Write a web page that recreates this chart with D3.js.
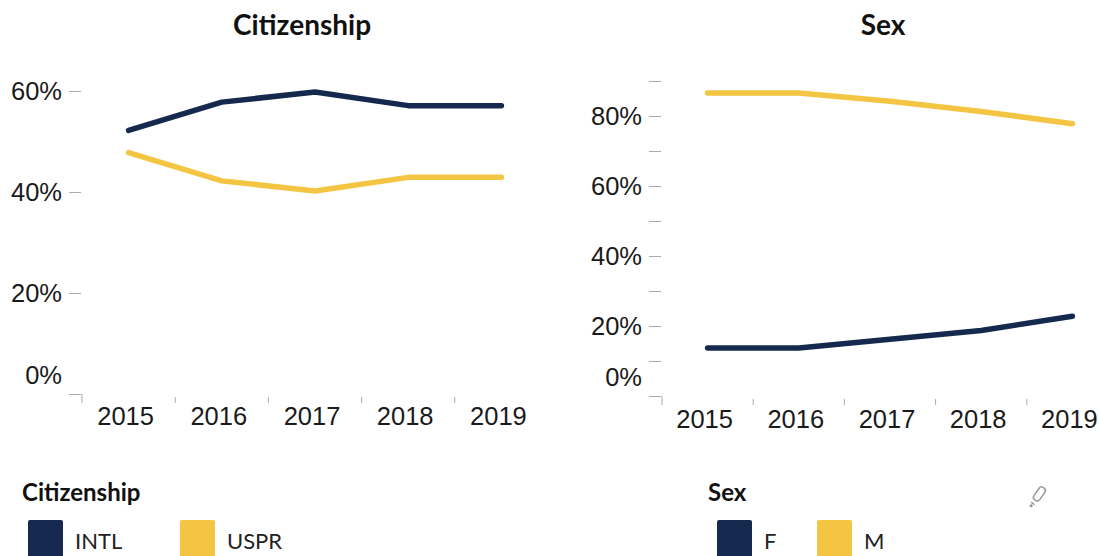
<!DOCTYPE html>
<html>
<head>
<meta charset="utf-8">
<script src="https://cdn.jsdelivr.net/npm/d3@7"></script>
<style>
  body { margin: 0; background: #fff; }
  .tick line { stroke: #aaa; stroke-width: 1; }
  .axis text { font-family: "Liberation Sans", Arial, sans-serif; font-size: 25.5px; fill: #1a1a1a; }
  .title { font-family: Lato, "Open Sans", sans-serif; font-weight: bold; font-size: 28px; fill: #111; }
  .legtitle { font-family: Lato, "Open Sans", sans-serif; font-weight: bold; font-size: 24px; fill: #111; }
  .leglabel { font-family: Lato, "Open Sans", sans-serif; font-size: 22px; fill: #222; }
</style>
</head>
<body>
<div id="chart"></div>
<script>
var years = ["2015", "2016", "2017", "2018", "2019"];

// citizenship shares
var intl = [0.522, 0.578, 0.598, 0.571, 0.571];
var uspr = [0.478, 0.422, 0.402, 0.429, 0.429];

// sex shares
var female = [0.137, 0.137, 0.162, 0.187, 0.228];
var male = [0.866, 0.866, 0.842, 0.813, 0.778];

var citTicks = [0, 0.2, 0.4, 0.6];
var sexTicks = [0, 0.1, 0.2, 0.3, 0.4, 0.5, 0.6, 0.7, 0.8, 0.9];

var navy = "#14294d",
    gold = "#f4c542";

var width = 1099, height = 556;

var svg = d3.select('#chart').append('svg')
    .attr('width', width)
    .attr('height', height);

function drawPanel(opt) {
  var x = d3.scaleBand()
      .domain(years)
      .range([opt.left, opt.right]);

  var y = d3.scaleLinear()
      .domain([0, opt.ymax])
      .range([opt.bottom, opt.ytop]);

  var g = svg.append('g');

  g.append('text')
      .attr('class', 'title')
      .attr('x', opt.titleX)
      .attr('y', 35)
      .attr('text-anchor', 'middle')
      .text(opt.title);

  // y axis: short dashes left of the plot
  var yAxis = g.append('g')
      .attr('class', 'axis')
      .attr('transform', 'translate(' + (opt.left - 1) + ',0)')
      .call(d3.axisLeft(y)
          .tickValues(opt.ticks)
          .tickSize(12)
          .tickPadding(7)
          .tickFormat(function(d) {
            return Math.round(d * 100) % 20 == 0 ? d3.format('.0%')(d) : '';
          }));
  yAxis.select('.domain').remove();
  // the zero label sits up off its tick
  yAxis.selectAll('.tick').filter(function(d) { return d == 0; })
      .select('text').attr('y', -19);

  // x axis: dashes at band edges, labels in band centres
  var xAxis = g.append('g')
      .attr('class', 'axis')
      .attr('transform', 'translate(0,' + opt.bottom + ')');

  xAxis.selectAll('line')
      .data(years)
      .enter().append('line')
      .attr('x1', function(d) { return x(d); })
      .attr('x2', function(d) { return x(d); })
      .attr('y1', function(d, i) { return i == 0 ? 0 : 3; })
      .attr('y2', 9)
      .attr('stroke', '#aaa');

  xAxis.selectAll('text')
      .data(years)
      .enter().append('text')
      .attr('x', function(d) { return x(d) + x.bandwidth() / 2 - 3; })
      .attr('y', opt.xlabelY)
      .attr('text-anchor', 'middle')
      .text(function(d) { return d; });

  var line = d3.line()
      .x(function(d, i) { return x(years[i]) + x.bandwidth() / 2; })
      .y(function(d) { return y(d); });

  opt.series.forEach(function(s) {
    g.append('path')
        .datum(s.values)
        .attr('d', line)
        .attr('fill', 'none')
        .attr('stroke', s.color)
        .attr('stroke-width', 5.5)
        .attr('stroke-linecap', 'round')
        .attr('stroke-linejoin', 'round');
  });

  // legend
  var leg = g.append('g');
  leg.append('text')
      .attr('class', 'legtitle')
      .attr('x', opt.legX)
      .attr('y', 501)
      .text(opt.title);

  opt.series.forEach(function(s, i) {
    var sx = opt.legSwatch[i];
    leg.append('rect')
        .attr('x', sx)
        .attr('y', 520)
        .attr('width', 35)
        .attr('height', 45)
        .attr('rx', 2)
        .attr('fill', s.color);
    leg.append('text')
        .attr('class', 'leglabel')
        .attr('x', sx + 47)
        .attr('y', 549)
        .text(s.name);
  });
}

drawPanel({
  title: 'Citizenship', titleX: 302,
  left: 82, right: 548, bottom: 394, ytop: 91, ymax: 0.6,
  ticks: citTicks, xlabelY: 31,
  legX: 22, legSwatch: [28, 180],
  series: [
    {name: 'INTL', values: intl, color: navy},
    {name: 'USPR', values: uspr, color: gold}
  ]
});

drawPanel({
  title: 'Sex', titleX: 883,
  left: 662, right: 1118, bottom: 396, ytop: 116, ymax: 0.8,
  ticks: sexTicks, xlabelY: 32,
  legX: 708, legSwatch: [717, 817],
  series: [
    {name: 'F', values: female, color: navy},
    {name: 'M', values: male, color: gold}
  ]
});

// little edit pencil in the corner
var pencil = svg.append('g')
    .attr('transform', 'translate(1038,496) rotate(35)')
    .attr('fill', 'none')
    .attr('stroke', '#999')
    .attr('stroke-width', 1.5);
pencil.append('rect')
    .attr('x', -3.5).attr('y', -10)
    .attr('width', 7).attr('height', 15)
    .attr('rx', 3);
pencil.append('line')
    .attr('x1', -2).attr('x2', 2)
    .attr('y1', 9).attr('y2', 9);
pencil.append('circle')
    .attr('cx', 0).attr('cy', 12).attr('r', 0.8);
</script>
</body>
</html>
